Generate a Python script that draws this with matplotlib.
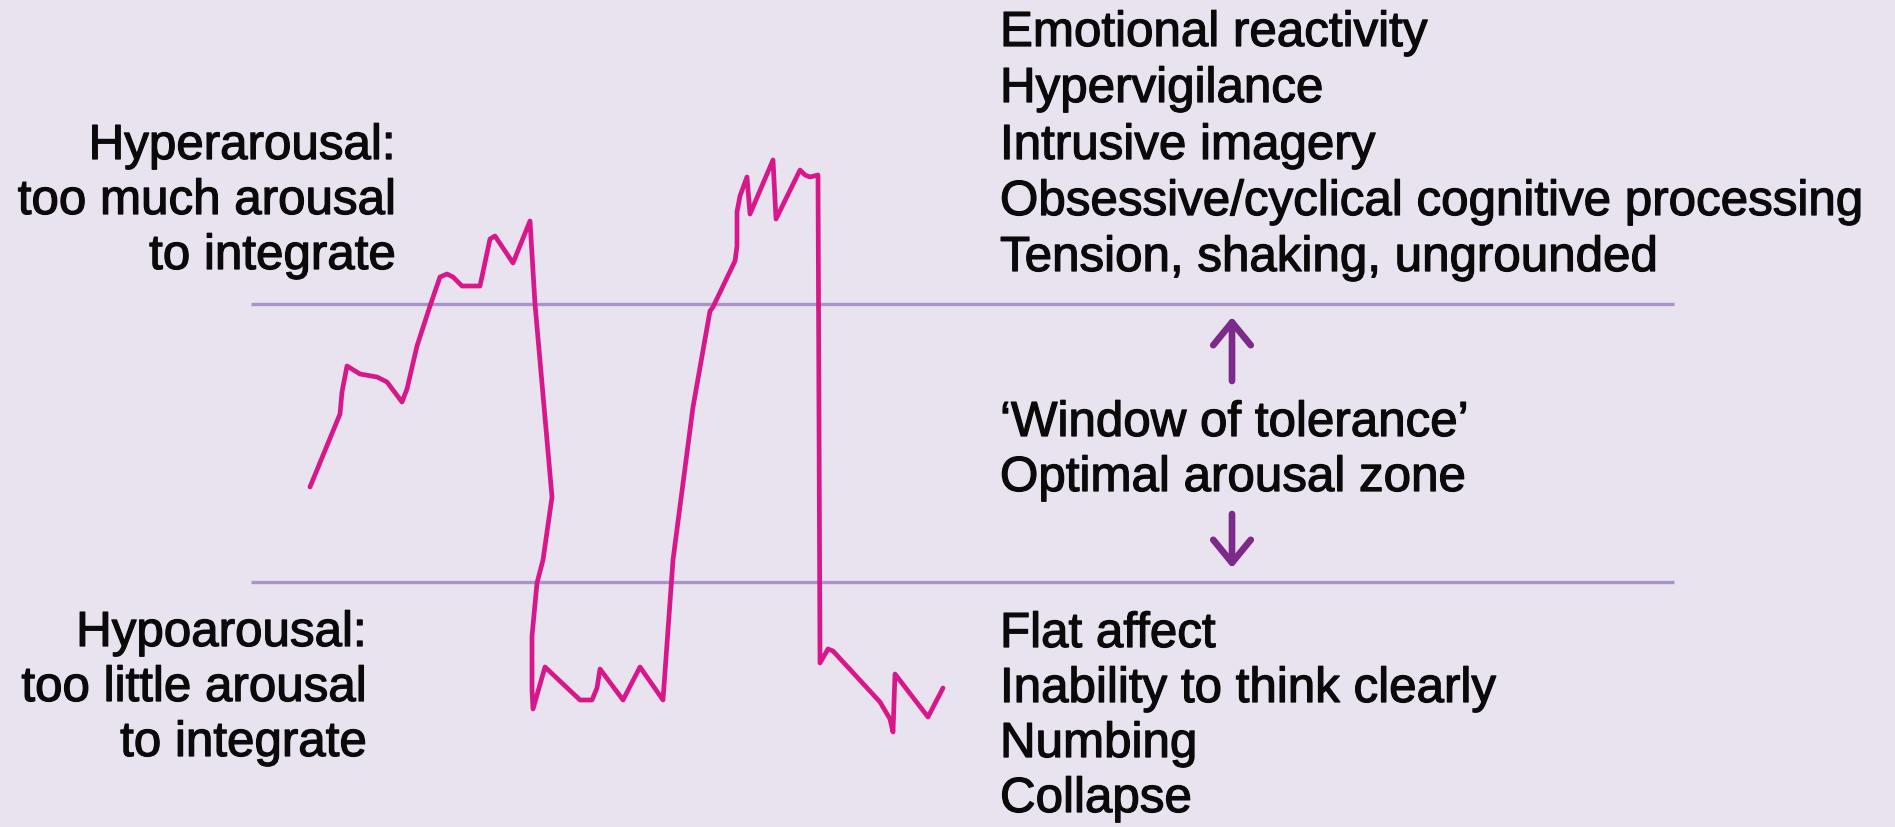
import matplotlib.pyplot as plt
import matplotlib.patheffects as pe

# colours
BG = "#e8e3ef"
BAND = "#ab93c9"
TRACE = "#d8188a"
ARROW = "#7d2b8a"
INK = "#0a0a0a"

# arousal trace (x, y in image pixels, y downward)
trace_x = [310, 340, 342, 347, 360, 377, 387, 402, 407, 417, 430, 440, 447, 453, 462, 480,
           490, 495, 513, 530, 535, 552, 543, 537, 532, 532, 533, 545, 580, 592, 597, 600,
           623, 640, 663, 673, 682, 693, 710, 713, 735, 737, 737, 740, 747, 750, 773, 776,
           800, 805, 810, 818, 820, 828, 833, 880, 890, 893, 895, 928, 943]
trace_y = [488, 415, 393, 367, 375, 378, 383, 403, 390, 347, 307, 278, 275, 278, 287, 287,
           240, 237, 264, 222, 305, 498, 561, 584, 637, 691, 710, 668, 701, 701, 689, 670,
           701, 668, 701, 561, 492, 408, 312, 308, 262, 247, 213, 197, 178, 215, 161, 220,
           171, 176, 178, 176, 664, 650, 652, 703, 720, 733, 675, 718, 689]

# window of tolerance limits
band_top = 305
band_bottom = 583
band_x = (251, 1674)

hyper_left = ["Hyperarousal:", "too much arousal", "to integrate"]
hyper_left_y = [160, 215, 270]
hypo_left = ["Hypoarousal:", "too little arousal", "to integrate"]
hypo_left_y = [647, 702, 757]

hyper_right = ["Emotional reactivity", "Hypervigilance", "Intrusive imagery",
               "Obsessive/cyclical cognitive processing", "Tension, shaking, ungrounded"]
hyper_right_y = [47, 103, 160, 216, 272]
window_right = ["\u2018Window of tolerance\u2019", "Optimal arousal zone"]
window_right_y = [437, 492]
hypo_right = ["Flat affect", "Inability to think clearly", "Numbing", "Collapse"]
hypo_right_y = [648, 703, 758, 813]

W, H = 1895, 828
fig = plt.figure(figsize=(W / 100, H / 100), dpi=100, facecolor=BG)
ax = fig.add_axes([0, 0, 1, 1])
ax.set_facecolor(BG)
ax.set_xlim(0, W)
ax.set_ylim(H, 0)
ax.axis("off")

ax.hlines([band_top, band_bottom], band_x[0], band_x[1], color=BAND, lw=2.4)
ax.plot(trace_x, trace_y, color=TRACE, lw=3.4, solid_joinstyle="round", solid_capstyle="round")

# arrows inside the window
arrow_x = 1232
for tail, tip in [(382, 318), (515, 569)]:
    ax.annotate("", xy=(arrow_x, tip), xytext=(arrow_x, tail),
                arrowprops=dict(arrowstyle="->,head_length=0.55,head_width=0.45",
                                mutation_scale=30, lw=4.8, color=ARROW,
                                shrinkA=0, shrinkB=0, capstyle="round",
                                joinstyle="round"))

# heavier strokes to mimic the medium weight of the original lettering
bold = [pe.withStroke(linewidth=0.9, foreground=INK)]
font = dict(family="Liberation Sans", fontsize=35.5, color=INK, va="baseline",
            path_effects=bold)

for s, y in zip(hyper_left, hyper_left_y):
    ax.text(396, y, s, ha="right", **font)
for s, y in zip(hypo_left, hypo_left_y):
    ax.text(367, y, s, ha="right", **font)
for lines, ys in [(hyper_right, hyper_right_y), (window_right, window_right_y),
                  (hypo_right, hypo_right_y)]:
    for s, y in zip(lines, ys):
        ax.text(1000, y, s, ha="left", **font)

fig.savefig("out.png", dpi=100, facecolor=BG)
